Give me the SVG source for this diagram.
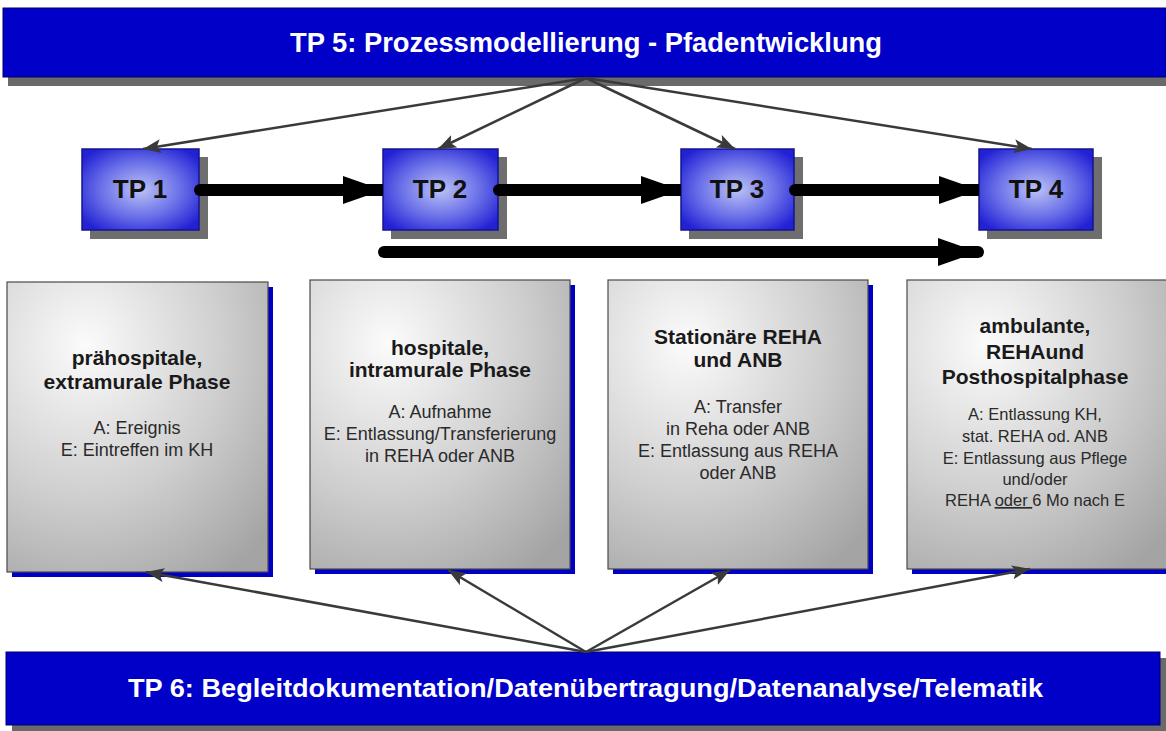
<svg xmlns="http://www.w3.org/2000/svg" width="1166" height="731" viewBox="0 0 1166 731">
  <defs>
    <style>
      .bar-text { font-family: "Liberation Sans", Arial, sans-serif; font-weight: bold; fill: #ffffff; }
      .tp-text { font-family: "Liberation Sans", Arial, sans-serif; font-weight: bold; fill: #111111; font-size: 26px; text-anchor: middle; }
      .phase-title { font-family: "Liberation Sans", Arial, sans-serif; font-weight: bold; fill: #1a1a1a; font-size: 21px; text-anchor: middle; }
      .phase-body { font-family: "Liberation Sans", Arial, sans-serif; fill: #2a2a2a; font-size: 18px; text-anchor: middle; }
      .phase-body-sm { font-family: "Liberation Sans", Arial, sans-serif; fill: #2a2a2a; font-size: 16.5px; text-anchor: middle; }
      .thin { stroke: #3a3a3a; stroke-width: 2.5; fill: none; marker-end: url(#thinHead); }
      .thick { stroke: #000000; stroke-width: 12; fill: none; marker-end: url(#thickHead); }
      .tp-box { fill: url(#tpGrad); stroke: #141490; stroke-width: 1.5; }
      .tp-shadow { fill: #6e6e6e; }
      .phase-box { fill: url(#phaseGrad); stroke: #4a4a4a; stroke-width: 1.2; }
      .phase-shadow { fill: #0000c4; }
      .bar { fill: #0000c8; stroke: #00006a; stroke-width: 1; }
      .bar-shadow { fill: #6a6a6a; }
    </style>
    <radialGradient id="tpGrad" cx="0.5" cy="0.5" r="0.62">
      <stop offset="0" stop-color="#bcc2f4"/>
      <stop offset="0.55" stop-color="#6a70e8"/>
      <stop offset="1" stop-color="#2222d4"/>
    </radialGradient>
    <radialGradient id="phaseGrad" cx="0.3" cy="0.22" r="0.95">
      <stop offset="0" stop-color="#fbfbfb"/>
      <stop offset="0.55" stop-color="#cfcfcf"/>
      <stop offset="1" stop-color="#a4a4a4"/>
    </radialGradient>
    <marker id="thinHead" markerUnits="userSpaceOnUse" markerWidth="20" markerHeight="16" refX="18" refY="7" orient="auto">
      <path d="M0,0 L18,7 L0,14 L4,7 Z" fill="#3a3a3a"/>
    </marker>
    <marker id="thickHead" markerUnits="userSpaceOnUse" markerWidth="42" markerHeight="30" refX="40" refY="14" orient="auto">
      <path d="M0,0 L40,14 L0,28 Z" fill="#000000"/>
    </marker>
  </defs>

  <rect width="1166" height="731" fill="#ffffff"/>

  <!-- top bar: TP 5 -->
  <g id="tp5">
    <rect class="bar-shadow" x="8" y="14" width="1158" height="72"/>
    <rect class="bar" x="3" y="8" width="1163" height="69"/>
    <text class="bar-text" x="290" y="52" font-size="28" textLength="592" lengthAdjust="spacingAndGlyphs">TP 5:  Prozessmodellierung - Pfadentwicklung</text>
  </g>

  <!-- bottom bar: TP 6 -->
  <g id="tp6">
    <rect class="bar-shadow" x="12" y="658" width="1154" height="73"/>
    <rect class="bar" x="6" y="652" width="1154" height="73"/>
    <text class="bar-text" x="128" y="697" font-size="26" textLength="915" lengthAdjust="spacingAndGlyphs">TP 6:  Begleitdokumentation/Datenübertragung/Datenanalyse/Telematik</text>
  </g>

  <!-- sub-project boxes -->
  <g id="tp1">
    <rect class="tp-shadow" x="90" y="157" width="118" height="82"/>
    <rect class="tp-box" x="82" y="149" width="117" height="81"/>
    <text class="tp-text" x="140" y="198">TP 1</text>
  </g>
  <g id="tp2">
    <rect class="tp-shadow" x="391" y="157" width="116" height="82"/>
    <rect class="tp-box" x="383" y="149" width="115" height="81"/>
    <text class="tp-text" x="440" y="198">TP 2</text>
  </g>
  <g id="tp3">
    <rect class="tp-shadow" x="689" y="157" width="114" height="82"/>
    <rect class="tp-box" x="681" y="149" width="113" height="81"/>
    <text class="tp-text" x="737" y="198">TP 3</text>
  </g>
  <g id="tp4">
    <rect class="tp-shadow" x="987" y="157" width="115" height="82"/>
    <rect class="tp-box" x="979" y="149" width="114" height="81"/>
    <text class="tp-text" x="1036" y="198">TP 4</text>
  </g>

  <!-- phase boxes -->
  <g id="phase1">
    <rect class="phase-shadow" x="12" y="287" width="261" height="290"/>
    <rect class="phase-box" x="7" y="282" width="261" height="290"/>
    <text class="phase-title" x="137" y="365">prähospitale,</text>
    <text class="phase-title" x="137" y="389">extramurale Phase</text>
    <text class="phase-body" x="137" y="434">A: Ereignis</text>
    <text class="phase-body" x="137" y="456">E: Eintreffen im KH</text>
  </g>
  <g id="phase2">
    <rect class="phase-shadow" x="315" y="285" width="260" height="289"/>
    <rect class="phase-box" x="310" y="280" width="260" height="289"/>
    <text class="phase-title" x="440" y="355">hospitale,</text>
    <text class="phase-title" x="440" y="377">intramurale Phase</text>
    <text class="phase-body" x="440" y="418">A: Aufnahme</text>
    <text class="phase-body" x="440" y="440">E: Entlassung/Transferierung</text>
    <text class="phase-body" x="440" y="462">in REHA oder ANB</text>
  </g>
  <g id="phase3">
    <rect class="phase-shadow" x="613" y="285" width="260" height="289"/>
    <rect class="phase-box" x="608" y="280" width="260" height="289"/>
    <text class="phase-title" x="738" y="344">Stationäre REHA</text>
    <text class="phase-title" x="738" y="367">und ANB</text>
    <text class="phase-body" x="738" y="413">A: Transfer</text>
    <text class="phase-body" x="738" y="435">in Reha oder ANB</text>
    <text class="phase-body" x="738" y="457">E: Entlassung aus REHA</text>
    <text class="phase-body" x="738" y="479">oder ANB</text>
  </g>
  <g id="phase4">
    <rect class="phase-shadow" x="912" y="285" width="260" height="289"/>
    <rect class="phase-box" x="907" y="280" width="262" height="289"/>
    <text class="phase-title" x="1035" y="333">ambulante,</text>
    <text class="phase-title" x="1035" y="359">REHAund</text>
    <text class="phase-title" x="1035" y="384">Posthospitalphase</text>
    <text class="phase-body-sm" x="1035" y="420">A: Entlassung KH,</text>
    <text class="phase-body-sm" x="1035" y="442">stat. REHA od. ANB</text>
    <text class="phase-body-sm" x="1035" y="464">E: Entlassung aus Pflege</text>
    <text class="phase-body-sm" x="1035" y="485">und/oder</text>
    <text class="phase-body-sm" x="1035" y="506">REHA <tspan text-decoration="underline">oder </tspan>6 Mo nach E</text>
  </g>

  <!-- connectors -->
  <g id="connectors">
    <!-- from TP 5 down to each sub-project -->
    <line class="thin" x1="586" y1="78" x2="143" y2="149"/>
    <line class="thin" x1="586" y1="78" x2="438" y2="149"/>
    <line class="thin" x1="586" y1="78" x2="735" y2="149"/>
    <line class="thin" x1="586" y1="78" x2="1032" y2="149"/>
    <!-- sequence between sub-projects -->
    <circle cx="200" cy="190" r="6" fill="#000"/>
    <line class="thick" x1="200" y1="190" x2="383" y2="190"/>
    <circle cx="499" cy="190" r="6" fill="#000"/>
    <line class="thick" x1="499" y1="190" x2="681" y2="190"/>
    <circle cx="795" cy="190" r="6" fill="#000"/>
    <line class="thick" x1="795" y1="190" x2="979" y2="190"/>
    <!-- long arrow TP 2 to TP 4 -->
    <line class="thick" x1="384" y1="252" x2="978" y2="252" stroke-linecap="round"/>
    <!-- from TP 6 up to each phase -->
    <line class="thin" x1="586" y1="652" x2="146" y2="572"/>
    <line class="thin" x1="586" y1="652" x2="448" y2="570"/>
    <line class="thin" x1="586" y1="652" x2="730" y2="570"/>
    <line class="thin" x1="586" y1="652" x2="1030" y2="569"/>
  </g>
</svg>
